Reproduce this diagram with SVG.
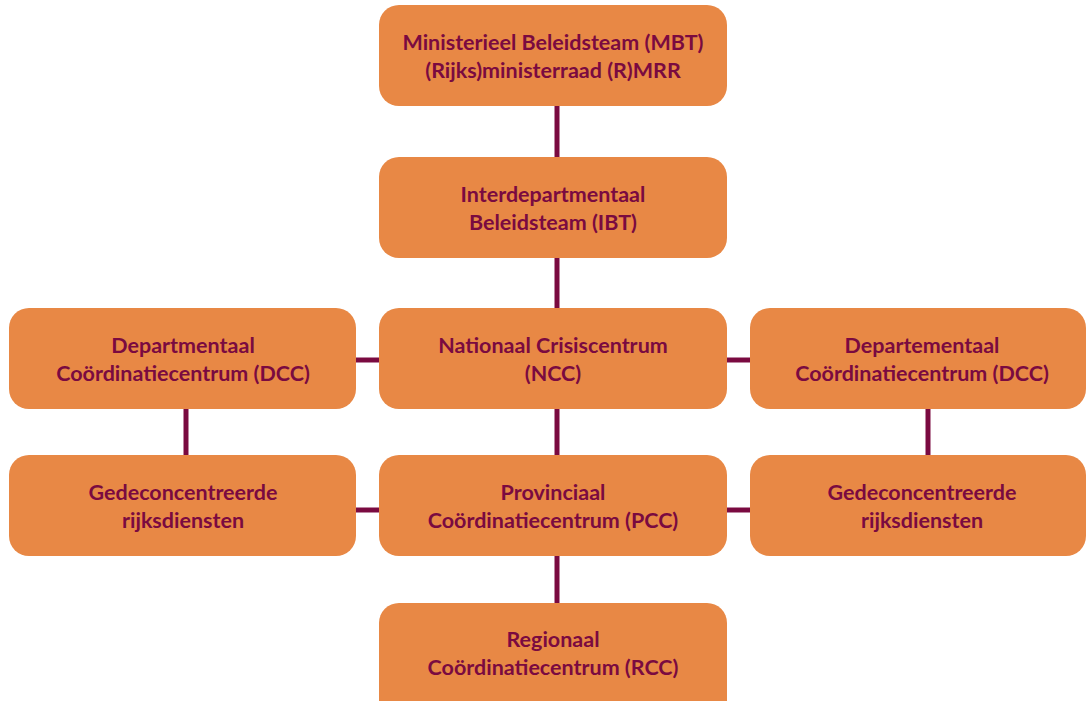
<svg xmlns="http://www.w3.org/2000/svg" width="1087" height="701" viewBox="0 0 1087 701">
<style>
.box{fill:#E88845}
.t{font-family:Lato,"Open Sans","Liberation Sans",sans-serif;font-weight:bold;font-size:21.5px;fill:#7A0A40;text-anchor:middle}
.c{stroke:#7A0A40;stroke-width:5;fill:none}
</style>
<rect width="1087" height="701" fill="#ffffff"/>
<g id="connectors">
<line class="c" x1="557" y1="104" x2="557" y2="159"/>
<line class="c" x1="557" y1="256" x2="557" y2="310"/>
<line class="c" x1="557" y1="407" x2="557" y2="457"/>
<line class="c" x1="557" y1="554" x2="557" y2="605"/>
<line class="c" x1="186" y1="407" x2="186" y2="457"/>
<line class="c" x1="928" y1="407" x2="928" y2="457"/>
<line class="c" x1="354" y1="360" x2="382" y2="360"/>
<line class="c" x1="725" y1="360" x2="752" y2="360"/>
<line class="c" x1="354" y1="510" x2="382" y2="510"/>
<line class="c" x1="725" y1="510" x2="752" y2="510"/>
</g>
<g id="mbt"><rect class="box" x="379" y="5" width="348" height="101" rx="20"/>
<text class="t" x="553" y="50">Ministerieel Beleidsteam (MBT)</text><text class="t" x="553" y="78">(Rijks)ministerraad (R)MRR</text></g>
<g id="ibt"><rect class="box" x="379" y="157" width="348" height="101" rx="20"/>
<text class="t" x="553" y="202">Interdepartmentaal</text><text class="t" x="553" y="230">Beleidsteam (IBT)</text></g>
<g id="dcc-left"><rect class="box" x="9" y="308" width="347" height="101" rx="20"/>
<text class="t" x="183" y="353">Departmentaal</text><text class="t" x="183" y="381">Coördinatiecentrum (DCC)</text></g>
<g id="ncc"><rect class="box" x="379" y="308" width="348" height="101" rx="20"/>
<text class="t" x="553" y="353">Nationaal Crisiscentrum</text><text class="t" x="553" y="381">(NCC)</text></g>
<g id="dcc-right"><rect class="box" x="750" y="308" width="336" height="101" rx="20"/>
<text class="t" x="922" y="353">Departementaal</text><text class="t" x="922" y="381">Coördinatiecentrum (DCC)</text></g>
<g id="gr-left"><rect class="box" x="9" y="455" width="347" height="101" rx="20"/>
<text class="t" x="183" y="500">Gedeconcentreerde</text><text class="t" x="183" y="528">rijksdiensten</text></g>
<g id="pcc"><rect class="box" x="379" y="455" width="348" height="101" rx="20"/>
<text class="t" x="553" y="500">Provinciaal</text><text class="t" x="553" y="528">Coördinatiecentrum (PCC)</text></g>
<g id="gr-right"><rect class="box" x="750" y="455" width="336" height="101" rx="20"/>
<text class="t" x="922" y="500">Gedeconcentreerde</text><text class="t" x="922" y="528">rijksdiensten</text></g>
<g id="rcc"><rect class="box" x="379" y="603" width="348" height="120" rx="20"/>
<text class="t" x="553" y="647">Regionaal</text><text class="t" x="553" y="675">Coördinatiecentrum (RCC)</text></g>
</svg>
